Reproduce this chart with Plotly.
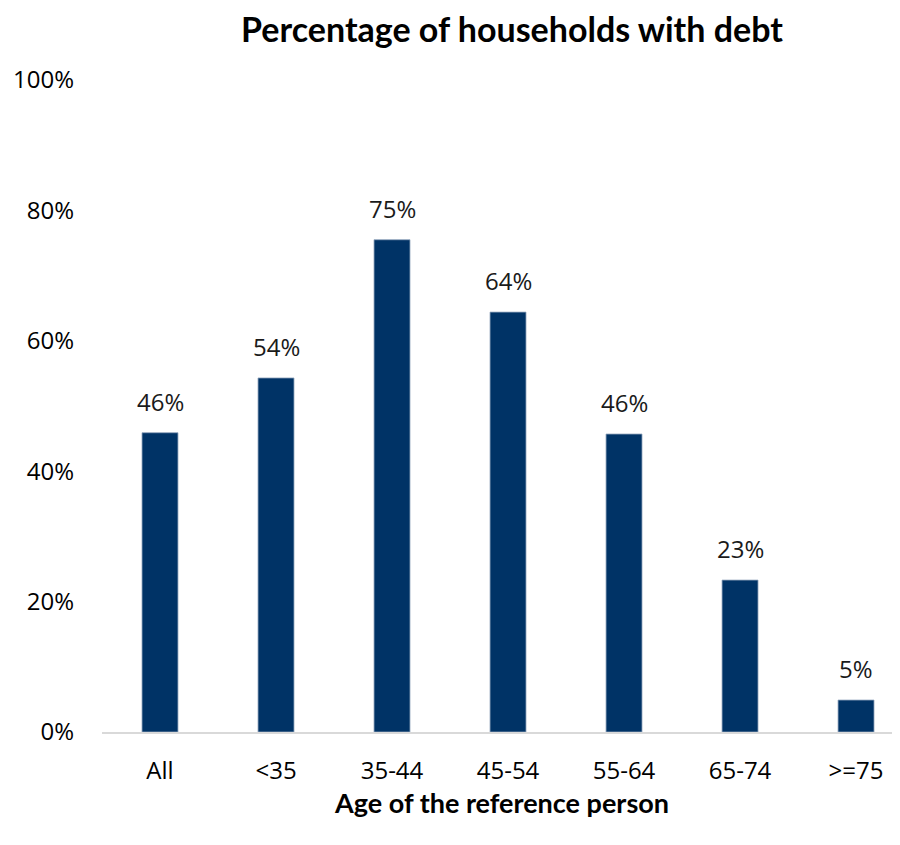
import plotly.graph_objects as go

categories = ["All", "<35", "35-44", "45-54", "55-64", "65-74", ">=75"]
values = [45.9, 54.3, 75.5, 64.4, 45.7, 23.3, 4.9]
labels = ["46%", "54%", "75%", "64%", "46%", "23%", "5%"]
y_ticks = [0, 20, 40, 60, 80, 100]
y_tick_text = ["0%", "20%", "40%", "60%", "80%", "100%"]

BOLD_FONT = "Lato, Open Sans, sans-serif"
TEXT_FONT = "Open Sans, sans-serif"

# page has an 8px body margin; figure is sized so it ends at the window edge
W, H = 892, 837

fig = go.Figure()
fig.add_trace(go.Bar(
    x=categories, y=values,
    marker=dict(color="#003366", line=dict(color="#8fa3bb", width=0.8)),
    width=0.31,
    hoverinfo="skip",
))

for c, v, t in zip(categories, values, labels):
    fig.add_annotation(x=c, y=v, text=t, showarrow=False, yanchor="bottom",
                       yshift=13, font=dict(family=TEXT_FONT, size=24, color="#1a1a1a"))

fig.add_annotation(x=0.5, xref="paper", y=-0.108, yref="paper",
                   text="<b>Age of the reference person</b>", showarrow=False,
                   yanchor="middle", xanchor="center",
                   font=dict(family=BOLD_FONT, size=27, color="#000000"))

fig.update_layout(
    width=W, height=H,
    margin=dict(l=94, r=0, t=72, b=113),
    paper_bgcolor="white", plot_bgcolor="white",
    showlegend=False,
    title=dict(text="<b>Percentage of households with debt</b>",
               x=504/W, xanchor="center", xref="container",
               y=1 - 22/H, yanchor="middle", yref="container",
               font=dict(family=BOLD_FONT, size=34, color="#000000")),
)
fig.update_xaxes(range=[-0.5, 6.379], showgrid=False, showline=True,
                 linecolor="#d9d9d9", linewidth=2, ticks="",
                 tickfont=dict(family=TEXT_FONT, size=24, color="#000000"),
                 ticklabelstandoff=16, zeroline=False)
fig.update_yaxes(range=[0, 100], tickvals=y_ticks, ticktext=y_tick_text,
                 showgrid=False, showline=False, zeroline=False, ticks="",
                 tickfont=dict(family=TEXT_FONT, size=24, color="#000000"),
                 ticklabelstandoff=27)

fig.write_html("out.html")
